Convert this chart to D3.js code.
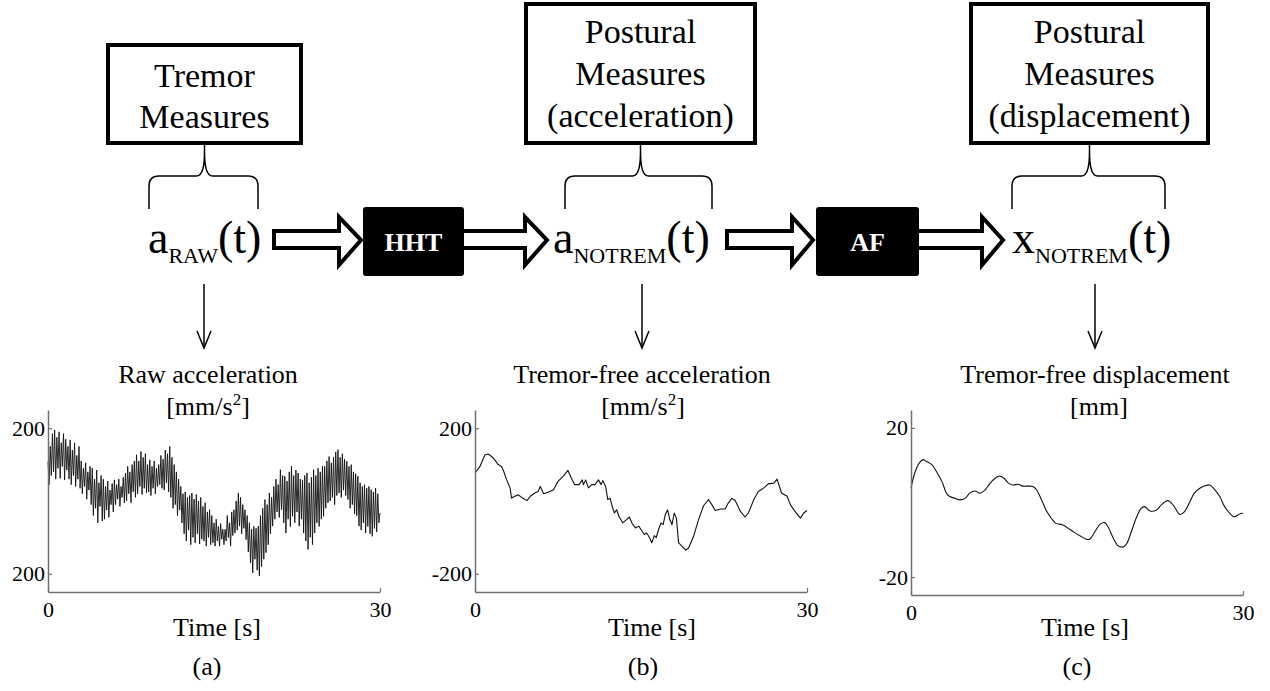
<!DOCTYPE html>
<html>
<head>
<meta charset="utf-8">
<script src="https://cdn.jsdelivr.net/npm/d3@7"></script>
<style>
  body { margin: 0; background: #fff; }
  svg text { font-family: "Liberation Serif", "Times New Roman", serif; fill: #000; }
</style>
</head>
<body>
<svg id="fig" width="1270" height="691"></svg>
<script>
// ---- Box captions, signal symbols and processing blocks ----
const boxLines = [
  ["Tremor", "Measures"],
  ["Postural", "Measures", "(acceleration)"],
  ["Postural", "Measures", "(displacement)"]
];
const symbolBase = ["a", "a", "x"];
const symbolSub = ["RAW", "NOTREM", "NOTREM"];
const blockNames = ["HHT", "AF"];
const panelTitles = ["Raw acceleration", "Tremor-free acceleration", "Tremor-free displacement"];
const unitBase = ["mm/s", "mm/s", "mm"];
const unitPow = ["2", "2", ""];
const panelTags = ["(a)", "(b)", "(c)"];
const xTicks = [0, 30];
const xLabel = "Time [s]";
const yTicksA = [-200, 200], yLabelsA = ["200", "200"];
const yTicksB = [-200, 200], yLabelsB = ["-200", "200"];
const yTicksC = [-20, 20],   yLabelsC = ["-20", "20"];

// ---- (a) raw acceleration [mm/s^2], sampled every 0.1 s over 0..30 s ----
const rawAccel = [
  109, 45, 150, 70, 185, 80, 195, 60, 175, 90,
  190, 62, 160, 95, 185, 58, 170, 85, 150, 60,
  168, 45, 140, 70, 160, 40, 125, 60, 150, 35,
  110, 20, 90, 40, 105, 5, 80, 30, 95, -10,
  90, -40, 60, -20, 85, -60, 50, -15, 70, -55,
  60, -50, 40, -25, 55, -45, 30, -10, 48, -30,
  58, -10, 45, 5, 60, -15, 40, 10, 65, -5,
  77, 0, 95, 20, 80, -5, 100, 25, 110, 10,
  127, 20, 110, 40, 136, 18, 120, 35, 130, 22,
  100, 25, 113, 15, 95, 35, 110, 20, 90, 40,
  100, 45, 125, 35, 115, 30, 140, 50, 130, 25,
  150, 10, 120, -20, 100, -10, 80, -40, 60, -25,
  40, -60, 20, -90, 25, -110, 10, -80, 15, -120,
  22, -100, 5, -115, 18, -90, 0, -118, 10, -105,
  -15, -110, -5, -124, -30, -100, -24, -120, -40, -115,
  -60, -124, -50, -110, -70, -124, -62, -105, -78, -120,
  -78, -110, -40, -100, -60, -124, -30, -95, -24, -88,
  0, -80, 22, -69, 10, -90, -10, -75, -24, -106,
  -40, -140, -60, -170, -78, -197, -70, -160, -75, -190,
  -69, -206, -40, -180, -20, -160, 4, -142, -10, -120,
  22, -90, 10, -69, 40, -50, 60, -30, 45, -45,
  86, -24, 70, -60, 68, -88, 55, -50, 80, -70,
  95, -42, 70, -60, 85, -30, 77, -69, 60, -50,
  58, -88, 70, -110, 77, -133, 50, -100, 65, -120,
  86, -88, 70, -60, 90, -70, 80, -50, 95, -42,
  95, -20, 110, -5, 122, 0, 105, 10, 120, -10,
  135, 15, 141, 22, 120, 10, 130, 30, 115, 15,
  109, 4, 95, -20, 100, -10, 80, -35, 75, -40,
  68, -69, 50, -80, 40, -60, 45, -88, 35, -70,
  40, -90, 31, -97, 25, -75, 35, -85, 20, -60,
  -33
];
// uniform sampling of the raw record over 30 s
const rawTime = rawAccel.map((_, i) => i * 30 / (rawAccel.length - 1));

// ---- (b) tremor-free acceleration [mm/s^2] ----
const timeB = [0, 0.45, 0.9, 1.2, 1.66, 2.1, 2.4, 2.6, 2.86, 3.17, 3.3, 3.6, 3.9, 4.3, 4.7,
  5.0, 5.4, 5.7, 5.9, 6.2, 6.6, 7.1, 7.5, 8.0, 8.4, 8.7, 9.0, 9.4, 9.7, 9.8,
  10.0, 10.25, 10.55, 10.85, 11.15, 11.4, 11.55, 11.8, 12.0, 12.2, 12.4, 12.6, 12.8, 13.0, 13.35,
  13.7, 13.95, 14.2, 14.5, 14.8, 15.1, 15.3, 15.5, 15.7, 15.98, 16.2, 16.37, 16.58, 16.8, 17.0,
  17.2, 17.4, 17.6, 17.8, 18.0, 18.2, 18.4, 18.7, 19.05, 19.3, 19.75, 20.2, 20.65, 21.1, 21.4,
  21.7, 22.2, 22.6, 22.9, 23.2, 23.5, 23.97, 24.4, 24.7, 25.2, 25.6, 26.1, 26.5, 27.0, 27.3,
  27.7, 28.2, 28.5, 28.9, 29.4, 29.7, 30];
const accB = [77, 95, 127, 129, 118, 100, 95, 81, 58, 36, 8, 13, 17, 8, 1,
  13, 22, 26, 40, 20, 24, 31, 54, 69, 84, 63, 45, 45, 58, 45,
  58, 36, 45, 45, 58, 45, 56, 40, 4, 8, -15, -33, -24, -42, -60,
  -51, -44, -62, -74, -69, -83, -92, -88, -97, -115, -95, -101, -79, -60, -65,
  -37, -24, -51, -65, -33, -47, -115, -124, -135, -129, -97, -51, -13, 4, -10,
  -26, -22, -22, -5, 7, 2, -28, -44, -33, 4, 26, 36, 47, 49, 60,
  22, 13, -10, -28, -47, -33, -26];

// ---- (c) tremor-free displacement [mm] ----
const timeC = [0, 0.2, 0.5, 0.8, 1.1, 1.4, 1.9, 2.3, 2.8, 3.2, 3.5, 4.0, 4.4, 4.9, 5.3,
  5.8, 6.2, 6.7, 7.1, 7.6, 8.0, 8.4, 8.8, 9.2, 9.7, 10.1, 10.6, 11.0, 11.3, 11.8,
  12.2, 12.7, 13.1, 13.6, 14.0, 14.7, 15.3, 15.9, 16.2, 16.6, 17.1, 17.5, 17.8, 18.3, 18.7,
  19.2, 19.5, 19.9, 20.4, 20.8, 21.1, 21.6, 22.2, 22.6, 23.2, 23.7, 24.3, 24.7, 25.2, 25.6,
  26.1, 26.5, 27.0, 27.4, 27.9, 28.3, 28.8, 29.2, 29.7, 30];
const dispC = [3.8, 6.5, 9.2, 10.8, 11.5, 11.0, 10.1, 8.3, 5.6, 2.5, 1.6, 1.1, 0.7, 1.1, 2.5,
  3.1, 2.5, 3.4, 5.0, 6.5, 7.1, 6.5, 5.2, 4.7, 4.9, 4.4, 4.4, 4.3, 3.6, 0.7,
  -2.0, -4.3, -5.6, -5.9, -6.5, -7.9, -9.0, -9.9, -9.7, -7.9, -5.8, -5.4, -6.5, -9.7, -11.6,
  -11.9, -11.0, -7.9, -3.8, -1.6, -1.1, -2.3, -2.0, -0.7, 0.5, -0.7, -3.2, -2.5, 0.2, 2.5,
  3.8, 4.4, 4.7, 3.6, 1.6, -0.9, -2.9, -3.8, -3.1, -2.9];

const svg = d3.select("#fig");

// ---------- top: measure boxes, braces, symbols, block arrows ----------
const boxes = [
  { x0: 106, x1: 303, y0: 43, y1: 145, base: [87, 128] },
  { x0: 524, x1: 757, y0: 2, y1: 145, base: [43, 85, 127] },
  { x0: 969, x1: 1210, y0: 2, y1: 145, base: [43, 85, 127] }
];
const braces = [
  { xL: 149, xR: 258, xc: 204.5 },
  { xL: 565, xR: 712, xc: 640.5 },
  { xL: 1012, xR: 1165, xc: 1089.5 }
];
const symX = [148, 553, 1012];
const downX = [204, 642, 1095];
const titleX = [208, 642, 1095];
const unitX = [208, 643, 1099];

boxes.forEach((b, i) => {
  const sw = 4;
  svg.append("rect")
    .attr("x", b.x0 + sw / 2).attr("y", b.y0 + sw / 2)
    .attr("width", b.x1 - b.x0 - sw).attr("height", b.y1 - b.y0 - sw)
    .attr("fill", "#fff").attr("stroke", "#000").attr("stroke-width", sw);
  boxLines[i].forEach((line, k) => {
    svg.append("text")
      .attr("x", (b.x0 + b.x1) / 2).attr("y", b.base[k])
      .attr("text-anchor", "middle").style("font-size", "34px")
      .text(line);
  });
  const br = braces[i];
  svg.append("line")
    .attr("x1", br.xc).attr("x2", br.xc).attr("y1", b.y1).attr("y2", 152)
    .attr("stroke", "#000").attr("stroke-width", 1.5);
});

// curly brace under each box
const yTip = 152, yMid = 176, yEnd = 209;
braces.forEach(br => {
  const p = d3.path();
  p.moveTo(br.xL, yEnd);
  p.lineTo(br.xL, yMid + 10);
  p.quadraticCurveTo(br.xL, yMid, br.xL + 10, yMid);
  p.lineTo(br.xc - 8, yMid);
  p.quadraticCurveTo(br.xc, yMid, br.xc, yTip);
  p.quadraticCurveTo(br.xc, yMid, br.xc + 8, yMid);
  p.lineTo(br.xR - 10, yMid);
  p.quadraticCurveTo(br.xR, yMid, br.xR, yMid + 10);
  p.lineTo(br.xR, yEnd);
  svg.append("path").attr("d", p.toString())
    .attr("fill", "none").attr("stroke", "#000").attr("stroke-width", 1.5);
});

// signal symbols with subscripts
symbolBase.forEach((s, i) => {
  const t = svg.append("text").attr("x", symX[i]).attr("y", 253).style("font-size", "46px");
  t.append("tspan").text(s);
  t.append("tspan").attr("dy", 10).style("font-size", "22px").text(symbolSub[i]);
  t.append("tspan").attr("dy", -10).text("(t)");
});

// hollow block arrows
const arrows = [
  { x0: 274, xh: 339, xt: 361 },
  { x0: 460, xh: 525, xt: 547 },
  { x0: 727, xh: 792, xt: 813 },
  { x0: 915, xh: 982, xt: 1003 }
];
const shaftTop = 231, shaftBot = 248, headTop = 217, headBot = 265, tipY = 240;
arrows.forEach(a => {
  const p = d3.path();
  p.moveTo(a.x0, shaftTop);
  p.lineTo(a.xh, shaftTop);
  p.lineTo(a.xh, headTop);
  p.lineTo(a.xt, tipY);
  p.lineTo(a.xh, headBot);
  p.lineTo(a.xh, shaftBot);
  p.lineTo(a.x0, shaftBot);
  p.closePath();
  svg.append("path").attr("d", p.toString())
    .attr("fill", "#fff").attr("stroke", "#000").attr("stroke-width", 4)
    .attr("stroke-linejoin", "miter");
});

// processing blocks
const blocks = [{ x0: 363, x1: 464 }, { x0: 816, x1: 919 }];
blocks.forEach((b, i) => {
  svg.append("rect").attr("x", b.x0).attr("y", 207)
    .attr("width", b.x1 - b.x0).attr("height", 69).attr("rx", 3)
    .attr("fill", "#000");
  svg.append("text").attr("x", (b.x0 + b.x1) / 2).attr("y", 251)
    .attr("text-anchor", "middle").style("font-size", "26px").style("font-weight", "bold")
    .style("fill", "#fff").text(blockNames[i]);
});

// thin down arrows to the panel captions
downX.forEach(x => {
  svg.append("line").attr("x1", x).attr("x2", x).attr("y1", 284).attr("y2", 348)
    .attr("stroke", "#000").attr("stroke-width", 1.5);
  svg.append("path").attr("d", `M${x - 7},331L${x},348L${x + 7},331`)
    .attr("fill", "none").attr("stroke", "#000").attr("stroke-width", 1.5);
});

panelTitles.forEach((t, i) => {
  svg.append("text").attr("x", titleX[i]).attr("y", 383)
    .attr("text-anchor", "middle").style("font-size", "26px").text(t);
  const u = svg.append("text").attr("x", unitX[i]).attr("y", 415)
    .attr("text-anchor", "middle").style("font-size", "26px");
  u.append("tspan").text("[" + unitBase[i]);
  if (unitPow[i]) {
    u.append("tspan").attr("dy", -10).style("font-size", "17px").text(unitPow[i]);
    u.append("tspan").attr("dy", 10).text("]");
  } else {
    u.append("tspan").text("]");
  }
});

// ---------- bottom: the three time-series panels ----------
const panels = [
  { left: 48, right: 380, top: 410, bottom: 592, dom: [-250, 250],
    t: rawTime, v: rawAccel, yT: yTicksA, yL: yLabelsA, curve: d3.curveLinear, w: 0.9, col: "#111",
    labelX: 217, tagX: 207 },
  { left: 475, right: 807, top: 410, bottom: 592, dom: [-250, 250],
    t: timeB, v: accB, yT: yTicksB, yL: yLabelsB, curve: d3.curveLinear, w: 1.1, col: "#111",
    labelX: 652, tagX: 643 },
  { left: 911, right: 1243, top: 410, bottom: 595, dom: [-24.8, 24.8],
    t: timeC, v: dispC, yT: yTicksC, yL: yLabelsC, curve: d3.curveCatmullRom, w: 1.1, col: "#111",
    labelX: 1085, tagX: 1077 }
];

const axisCol = "#707070";
panels.forEach((p, i) => {
  const x = d3.scaleLinear().domain([0, 30]).range([p.left, p.right]);
  const y = d3.scaleLinear().domain(p.dom).range([p.bottom, p.top]);
  const g = svg.append("g");

  const line = d3.line().x((d, k) => x(p.t[k])).y(d => y(d)).curve(p.curve);
  g.append("path").datum(p.v).attr("d", line)
    .attr("fill", "none").attr("stroke", p.col).attr("stroke-width", p.w)
    .attr("stroke-linejoin", "round");

  const ya = g.append("g").attr("transform", `translate(${p.left},0)`)
    .call(d3.axisLeft(y).tickValues(p.yT).tickFormat((d, k) => p.yL[k])
      .tickSize(-4).tickSizeOuter(0).tickPadding(3));
  const xa = g.append("g").attr("transform", `translate(0,${p.bottom})`)
    .call(d3.axisBottom(x).tickValues(xTicks).tickFormat(d3.format("d"))
      .tickSize(-4).tickSizeOuter(0).tickPadding(9));
  [ya, xa].forEach(a => {
    a.attr("font-family", null).attr("font-size", null);
    a.select(".domain").attr("stroke", axisCol).attr("stroke-width", 1.5);
    a.selectAll(".tick line").attr("stroke", axisCol).attr("stroke-width", 1.2);
    a.selectAll(".tick text").style("font-size", "22px").attr("fill", "#000");
  });

  svg.append("text").attr("x", p.labelX).attr("y", 636)
    .attr("text-anchor", "middle").style("font-size", "26px").text(xLabel);
  svg.append("text").attr("x", p.tagX).attr("y", 675)
    .attr("text-anchor", "middle").style("font-size", "26px").text(panelTags[i]);
});
</script>
</body>
</html>
